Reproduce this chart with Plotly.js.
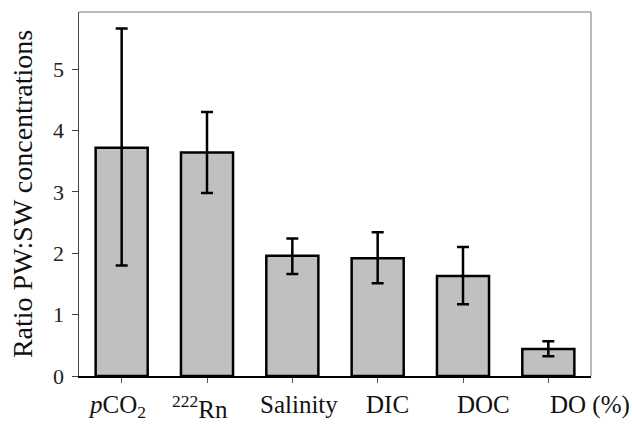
<!DOCTYPE html>
<html>
<head>
<meta charset="utf-8">
<script src="https://cdn.plot.ly/plotly-3.0.1.min.js"></script>
<style>html,body{margin:0;padding:0;background:#fff;}#chart{width:633px;height:424px;}</style>
</head>
<body>
<div id="chart"></div>
<script>
// Data
const categories = ['<i>p</i>CO<sub>2</sub>', '<sup>222</sup>Rn', 'Salinity', 'DIC', 'DOC', 'DO (%)'];
const ratios = [3.72, 3.64, 1.96, 1.92, 1.63, 0.44];
const errPlus = [1.94, 0.66, 0.28, 0.42, 0.47, 0.125];
const errMinus = [1.92, 0.66, 0.30, 0.41, 0.46, 0.12];
const yTicks = [0, 1, 2, 3, 4, 5];

// Layout-only: horizontal nudges of the category labels (as in the original figure)
const labelNudge = [-0.06, -0.08, 0.08, 0.11, 0.24, 0.49];

const idx = categories.map((_, i) => i);
const FONT = 'Liberation Serif';

const trace = {
  type: 'bar',
  x: idx,
  y: ratios,
  marker: {color: '#c0c0c0', line: {color: '#000', width: 2.5}},
  error_y: {type: 'data', symmetric: false, array: errPlus, arrayminus: errMinus,
            color: '#000', thickness: 2.5, width: 6},
  hoverinfo: 'none'
};

const annotations = categories.map((c, i) => ({
  text: c, xref: 'x', yref: 'paper', x: i + labelNudge[i], y: 0,
  xanchor: 'center', yanchor: 'top', yshift: -13, showarrow: false,
  font: {family: FONT, size: 25, color: '#111'}
}));

const layout = {
  width: 633, height: 424,
  margin: {l: 79, r: 42, t: 12, b: 48, pad: 0},
  paper_bgcolor: '#fff', plot_bgcolor: '#fff',
  bargap: 0.39,
  showlegend: false,
  font: {family: FONT, size: 22, color: '#111'},
  xaxis: {
    range: [-0.5, 5.5], tickvals: idx, showticklabels: false,
    ticks: 'outside', ticklen: 5, tickwidth: 1, tickcolor: '#555',
    showgrid: false, zeroline: false,
    showline: true, linecolor: '#000', linewidth: 2
  },
  yaxis: {
    range: [0, 5.93], tickvals: yTicks, ticktext: yTicks.map(String),
    ticks: 'outside', ticklen: 6, tickwidth: 1, tickcolor: '#444',
    ticklabelstandoff: 3,
    showgrid: false, zeroline: false,
    showline: true, linecolor: '#444', linewidth: 1.5,
    tickfont: {family: FONT, size: 22, color: '#222'},
    title: {text: 'Ratio PW:SW concentrations', font: {family: FONT, size: 28, color: '#111'}, standoff: 12}
  },
  shapes: [
    {type: 'line', xref: 'paper', yref: 'paper', x0: 0, x1: 1, y0: 1, y1: 1, line: {color: '#777', width: 1}},
    {type: 'line', xref: 'paper', yref: 'paper', x0: 1, x1: 1, y0: 0, y1: 1, line: {color: '#777', width: 1}}
  ],
  annotations: annotations
};

Plotly.newPlot('chart', [trace], layout, {staticPlot: true, displayModeBar: false});
</script>
</body>
</html>
